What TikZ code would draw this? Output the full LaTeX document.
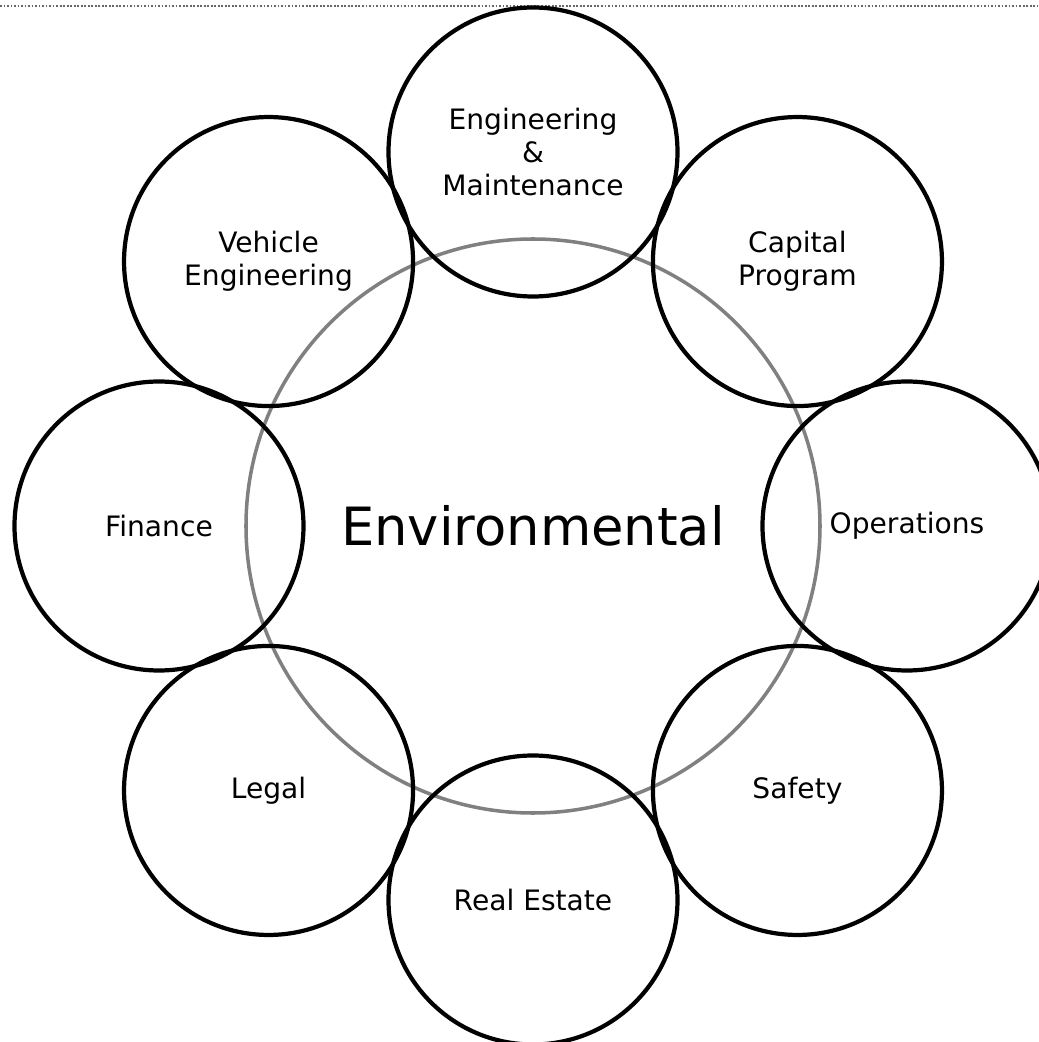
\documentclass[tikz,border=0pt]{standalone}
\usepackage{fontspec}
\setmainfont{DejaVu Sans}
\usetikzlibrary{positioning}

\tikzset{
  dept/.style={circle,draw=black,line width=1.2pt,minimum size=2.89cm,inner sep=0pt,
    align=center,font=\fontsize{8}{9.3}\selectfont},
  hub/.style={circle,draw=black!50,line width=1pt,minimum size=5.74cm,inner sep=0pt,
    font=\fontsize{15}{18}\selectfont},
  rule/.style={draw=black!60,line width=0.35pt,dash pattern=on 0.5pt off 0.5pt}
}

\begin{document}
\begin{tikzpicture}
  \useasboundingbox (-5.33,-5.16) rectangle (5.05,5.26);
  % top border
  \coordinate (tl) at (-5.33,5.20);
  \coordinate (tr) at (5.05,5.20);
  \draw[rule] (tl) -- (tr);

  \node[hub] (env) at (0,0) {Environmental};

  \node[dept] (eng)  at (90:3.74)  {Engineering\\\&\\Maintenance};
  \node[dept] (cap)  at (45:3.74)  {Capital\\Program};
  \node[dept] (ops)  at (0:3.74)   {Operations};
  \node[dept] (saf)  at (-45:3.74) {Safety};
  \node[dept] (real) at (-90:3.74) {Real Estate};
  \node[dept] (leg)  at (-135:3.74) {Legal};
  \node[dept] (fin)  at (180:3.74) {Finance};
  \node[dept] (veh)  at (135:3.74) {Vehicle\\Engineering};
\end{tikzpicture}
\end{document}
